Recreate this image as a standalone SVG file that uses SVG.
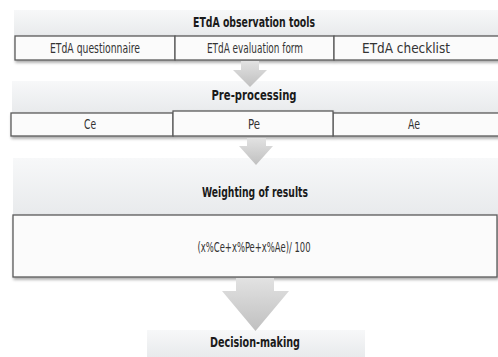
<svg xmlns="http://www.w3.org/2000/svg" width="498" height="357" viewBox="0 0 498 357">
<defs>
<linearGradient id="hdr" x1="0" y1="0" x2="0" y2="1">
<stop offset="0" stop-color="#f7f8f9"/>
<stop offset="1" stop-color="#e8eaec"/>
</linearGradient>
<linearGradient id="arr" x1="0" y1="0" x2="0" y2="1">
<stop offset="0" stop-color="#e2e2e2"/>
<stop offset="1" stop-color="#c0c0c0"/>
</linearGradient>
<filter id="sh" x="-5%" y="-30%" width="110%" height="180%">
<feGaussianBlur in="SourceAlpha" stdDeviation="1.5"/>
<feOffset dx="1" dy="2" result="b"/>
<feComponentTransfer><feFuncA type="linear" slope="0.35"/></feComponentTransfer>
<feMerge><feMergeNode/><feMergeNode in="SourceGraphic"/></feMerge>
</filter>
</defs>
<style>
.hdr{fill:url(#hdr)}
.cell{fill:#fbfbfb;stroke:#5a5a5a;stroke-width:1.3}
.arrow{fill:url(#arr)}
.t{font-family:"Liberation Sans Narrow","DejaVu Sans Condensed","Liberation Sans",sans-serif;font-size:13.5px;fill:#333;text-anchor:middle}
.b{font-family:"Liberation Sans Narrow","DejaVu Sans Condensed","Liberation Sans",sans-serif;font-size:13.5px;font-weight:bold;fill:#1a1a1a;text-anchor:middle}
</style>
<rect x="0" y="0" width="498" height="357" fill="#ffffff"/>

<g id="tools">
<rect class="hdr" x="14" y="10" width="484" height="26"/>
<text class="b" x="254" y="27" textLength="122" lengthAdjust="spacingAndGlyphs">ETdA observation tools</text>
<g filter="url(#sh)">
<rect class="cell" x="15" y="36" width="160" height="24"/>
<rect class="cell" x="175" y="36" width="159" height="24"/>
<rect class="cell" x="334" y="36" width="166" height="24"/>
</g>
<text class="t" x="95" y="53" textLength="90" lengthAdjust="spacingAndGlyphs">ETdA questionnaire</text>
<text class="t" x="255" y="53" textLength="96" lengthAdjust="spacingAndGlyphs">ETdA evaluation  form</text>
<text class="t" x="406" y="53" textLength="88" lengthAdjust="spacingAndGlyphs">ETdA checklist</text>
</g>

<g id="preprocessing">
<rect class="hdr" x="12" y="81" width="486" height="32"/>
<text class="b" x="254" y="100" textLength="85" lengthAdjust="spacingAndGlyphs">Pre-processing</text>
<g filter="url(#sh)">
<rect class="cell" x="11" y="113" width="162" height="23"/>
<rect class="cell" x="333" y="113" width="167" height="23"/>
<rect class="cell" x="173" y="111" width="160" height="25"/>
</g>
<text class="t" x="90" y="129" textLength="12" lengthAdjust="spacingAndGlyphs">Ce</text>
<text class="t" x="254" y="129" textLength="12" lengthAdjust="spacingAndGlyphs">Pe</text>
<text class="t" x="414" y="129" textLength="12" lengthAdjust="spacingAndGlyphs">Ae</text>
</g>

<g id="weighting">
<rect class="hdr" x="13" y="158" width="485" height="57"/>
<text class="b" x="255" y="197" textLength="106" lengthAdjust="spacingAndGlyphs">Weighting of results</text>
<rect class="cell" x="13" y="215" width="484" height="62" filter="url(#sh)"/>
<text class="t" x="254" y="252" textLength="113" lengthAdjust="spacingAndGlyphs">(x%Ce+x%Pe+x%Ae)/ 100</text>
</g>

<g id="decision">
<rect class="hdr" x="147" y="330" width="218" height="27"/>
<text class="b" x="255" y="347" textLength="90" lengthAdjust="spacingAndGlyphs">Decision-making</text>
</g>

<g id="connectors">
<polygon class="arrow" points="241,61 259,61 259,70 267,70 250,87 233,70 241,70"/>
<polygon class="arrow" points="247,138 266,138 266,146 273,146 256,165 239,146 247,146"/>
<polygon class="arrow" points="236,278 274,278 274,291 289,291 255.5,331 222,291 236,291"/>
</g>
</svg>
